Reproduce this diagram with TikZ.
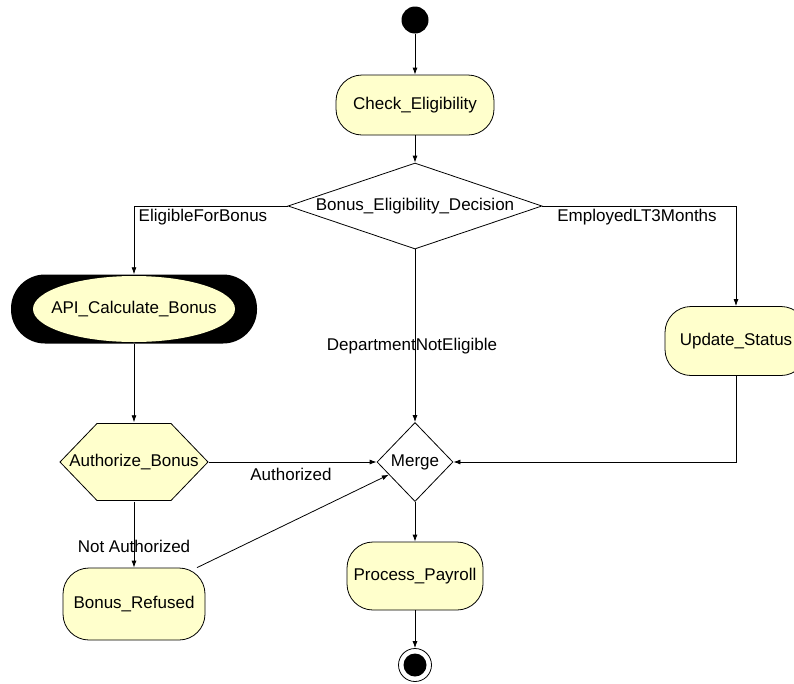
\documentclass[tikz,border=0pt]{standalone}
\usepackage{fontspec}
\setmainfont{Liberation Sans}
\usetikzlibrary{shapes.geometric,arrows.meta}
\definecolor{actyellow}{RGB}{255,255,204}

\begin{document}
\begin{tikzpicture}[x=1pt,y=-1pt,
  every node/.style={font=\fontsize{17}{20}\selectfont},
  activity/.style={draw, fill=actyellow, rounded corners=26pt, inner sep=0pt, line width=0.8pt},
  decision/.style={draw, diamond, aspect=3, inner sep=0pt, fill=white, line width=0.8pt},
  flow/.style={-{Latex[length=7pt,width=5pt]}, line width=0.8pt},
  guard/.style={inner sep=0pt}]

\useasboundingbox[fill=white] (0,0) rectangle (794,683);

\node[circle, fill=black, minimum size=27pt, inner sep=0pt] (start) at (415,20) {};
\node[activity, minimum width=158pt, minimum height=60pt] (check) at (415,105) {Check\_Eligibility};
\node[decision, minimum width=254pt, minimum height=86pt] (dec) at (415,206) {Bonus\_Eligibility\_Decision};
\node[fill=black, rounded corners=34pt, minimum width=246pt, minimum height=69pt, inner sep=0pt,
  path picture={\fill[actyellow, sharp corners] (path picture bounding box.center) ellipse [x radius=101pt, y radius=33pt];}]
  (api) at (134,309) {API\_Calculate\_Bonus};
\node[activity, minimum width=142pt, minimum height=69pt] (upd) at (736,341) {Update\_Status};
\node[minimum width=150pt, minimum height=79pt, inner sep=0pt,
  path picture={\filldraw[fill=actyellow, line width=0.8pt, sharp corners]
    ([xshift=1pt]path picture bounding box.west) -- ([shift={(38pt,-1pt)}]path picture bounding box.north west)
    -- ([shift={(-38pt,-1pt)}]path picture bounding box.north east) -- ([xshift=-1pt]path picture bounding box.east)
    -- ([shift={(-38pt,1pt)}]path picture bounding box.south east) -- ([shift={(38pt,1pt)}]path picture bounding box.south west) -- cycle;}]
  (auth) at (134,462) {Authorize\_Bonus};
\node[decision, aspect=1, minimum width=76pt, minimum height=79pt] (merge) at (415,462) {Merge};
\node[activity, minimum width=142pt, minimum height=72pt] (refused) at (134,604) {Bonus\_Refused};
\node[activity, minimum width=136pt, minimum height=68pt] (pay) at (415,576) {Process\_Payroll};
\node[circle, draw, minimum size=33pt, inner sep=0pt, line width=0.8pt] (final) at (415,665) {};
\node[circle, fill=black, minimum size=23pt, inner sep=0pt] (finaldot) at (final) {};

\draw[flow] (start) -- (check);
\draw[flow] (check) -- (dec);
\draw[flow] (dec.west) -| (api.north);
\draw[flow] (dec.east) -| (upd.north);
\draw[flow] (dec.south) -- (merge.north);
\draw[flow] (api) -- (auth);
\draw[flow] (auth.east) -- (merge.west);
\draw[flow] (auth) -- (refused);
\draw[flow] (refused.30) -- (merge);
\draw[flow] (upd.south) |- (merge.east);
\draw[flow] (merge) -- (pay);
\draw[flow] (pay) -- (final);

\node[guard] (lelig) at (203,217) {EligibleForBonus};
\node[guard] (lempl) at (637,217) {EmployedLT3Months};
\node[guard] (ldept) at (412,346) {DepartmentNotEligible};
\node[guard] (lauth) at (291,474) {Authorized};
\node[guard] (lnotauth) at (134,546) {Not Authorized};
\end{tikzpicture}
\end{document}
